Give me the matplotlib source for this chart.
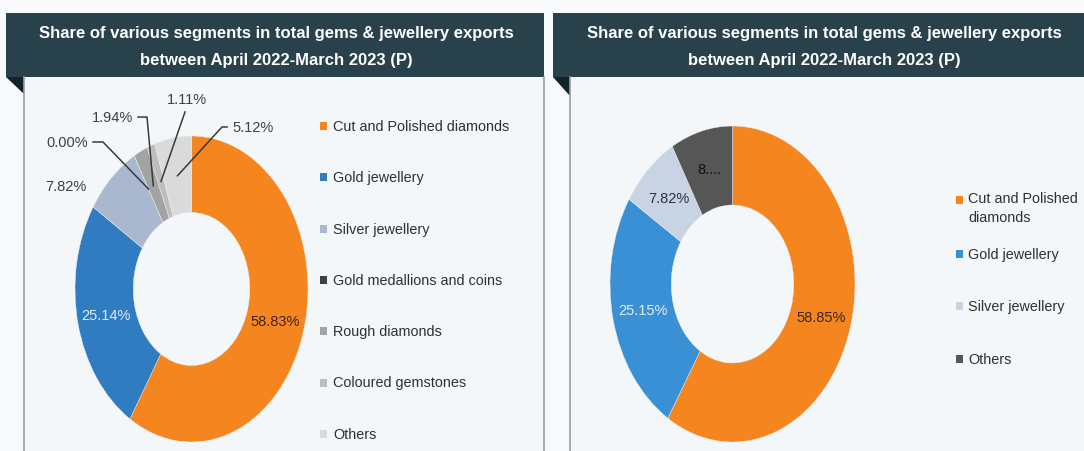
import numpy as np
import matplotlib
matplotlib.use('Agg')
import matplotlib.pyplot as plt
from matplotlib.patches import Rectangle, Polygon

plt.rcParams['font.family'] = ['Liberation Sans Narrow', 'Liberation Sans', 'DejaVu Sans']

# ---- data ----
title = 'Share of various segments in total gems & jewellery exports\nbetween April 2022-March 2023 (P)'

left_categories = ['Cut and Polished diamonds', 'Gold jewellery', 'Silver jewellery',
                   'Gold medallions and coins', 'Rough diamonds', 'Coloured gemstones', 'Others']
left_values = [58.83, 25.14, 7.82, 0.00, 1.94, 1.11, 5.12]
left_colors = ['#f5851f', '#2f7cc0', '#a9b8cf', '#404040', '#a3a3a3', '#bdbdbd', '#dadada']

right_categories = ['Cut and Polished\ndiamonds', 'Gold jewellery', 'Silver jewellery', 'Others']
right_values = [58.85, 25.15, 7.82, 8.18]
right_labels = ['58.85%', '25.15%', '7.82%', '8....']
right_colors = ['#f5851f', '#3a90d4', '#c8d4e3', '#565656']

W, H = 1084, 452
BG = '#f3f7fa'
HEAD = '#28414a'
FOLD = '#13232a'
LBL = 10.5   # slice label size
LEG = 10.4   # legend size


def rect(x0, y0, x1, y1):
    # pixel box (top-left origin) -> figure fraction
    return [x0 / W, 1 - y1 / H, (x1 - x0) / W, (y1 - y0) / H]


def mid_angles(values):
    v = np.array(values, dtype=float)
    frac = (np.cumsum(v) - v / 2) / v.sum()
    return np.deg2rad(90 - frac * 360)


fig = plt.figure(figsize=(W / 100, H / 100), dpi=100, facecolor='#f7f9fb')
bg = fig.add_axes([0, 0, 1, 1])
bg.set_xlim(0, W)
bg.set_ylim(H, 0)
bg.axis('off')

# panels
bg.add_patch(Rectangle((24, 78), 520, H - 78, facecolor=BG, edgecolor='none'))
bg.add_patch(Rectangle((570, 78), W - 570, H - 78, facecolor=BG, edgecolor='none'))
for x in (24, 544, 570):
    bg.plot([x, x], [78, H], color='#9a9fa3', lw=1.2)

# headers
bg.add_patch(Rectangle((6, 14), 538, 64, facecolor=HEAD, edgecolor='none'))
bg.add_patch(Rectangle((553, 14), W - 553, 64, facecolor=HEAD, edgecolor='none'))
bg.add_patch(Polygon([(6, 78), (24, 78), (24, 95)], closed=True, facecolor=FOLD, edgecolor='none'))
bg.add_patch(Polygon([(553, 78), (570, 78), (570, 97)], closed=True, facecolor=FOLD, edgecolor='none'))
for cx in (276, 824):
    bg.text(cx, 47, title, ha='center', va='center', color='white', fontsize=12,
            fontweight='bold', linespacing=1.95)

# ---- left donut ----
axl = fig.add_axes(rect(75, 137, 308, 443))
axl.pie(left_values, colors=left_colors, startangle=90, counterclock=False, radius=1,
        wedgeprops=dict(width=0.5, edgecolor='#f0f0f0', linewidth=0.3))
axl.set_xlim(-1, 1)
axl.set_ylim(-1, 1)
axl.set_aspect('auto')
axl.axis('off')

angl = mid_angles(left_values)
lab = ['%.2f%%' % v for v in left_values]
r = 0.75
axl.text(r * np.cos(angl[0]), r * np.sin(angl[0]), lab[0], ha='center', va='center',
         fontsize=LBL, color='#3b2616')
axl.text(r * np.cos(angl[1]), r * np.sin(angl[1]), lab[1], ha='center', va='center',
         fontsize=LBL, color='#dfeaf6')
axl.text(-1.077, 0.673, lab[2], ha='center', va='center', fontsize=LBL, color='#404040')

# labels with leader lines: (index, text x, text y, ha, leader start points)
leaders = [
    (3, -0.888, 0.961, 'right', [(-0.845, 0.961), (-0.760, 0.961)]),
    (4, -0.502, 1.124, 'right', [(-0.459, 1.124), (-0.382, 1.124)]),
    (5, -0.039, 1.242, 'center', [(-0.056, 1.157)]),
    (6, 0.348, 1.059, 'left', [(0.305, 1.059), (0.262, 1.059)]),
]
for i, tx, ty, ha, pts in leaders:
    ex, ey = r * np.cos(angl[i]), r * np.sin(angl[i])
    xs = [p[0] for p in pts] + [ex]
    ys = [p[1] for p in pts] + [ey]
    axl.plot(xs, ys, color='#3a3a3a', lw=1.1, clip_on=False)
    axl.text(tx, ty, lab[i], ha=ha, va='center', fontsize=LBL, color='#404040')

# left legend
for k, (name, col) in enumerate(zip(left_categories, left_colors)):
    y = 127 + k * 51.3
    bg.add_patch(Rectangle((320, y - 4), 7, 8, facecolor=col, edgecolor='none'))
    bg.text(333, y, name, ha='left', va='center', fontsize=LEG, color='#303030')

# ---- right donut ----
axr = fig.add_axes(rect(610, 127, 855, 443))
axr.pie(right_values, colors=right_colors, startangle=90, counterclock=False, radius=1,
        wedgeprops=dict(width=0.5, edgecolor='#f0f0f0', linewidth=0.3))
axr.set_xlim(-1, 1)
axr.set_ylim(-1, 1)
axr.set_aspect('auto')
axr.axis('off')

angr = mid_angles(right_values)
rcols = ['#3b2616', '#e3eef9', '#2a3142', '#111111']
for i, (t, c) in enumerate(zip(right_labels, rcols)):
    axr.text(r * np.cos(angr[i]), r * np.sin(angr[i]), t, ha='center', va='center',
             fontsize=LBL, color=c)

# right legend
rows = [201, 255, 307, 360]
for name, col, y in zip(right_categories, right_colors, rows):
    bg.add_patch(Rectangle((956, y - 4), 7, 8, facecolor=col, edgecolor='none'))
    if '\n' in name:
        bg.text(968, y - 9, name, ha='left', va='top', fontsize=LEG, color='#303030',
                linespacing=1.45)
    else:
        bg.text(968, y, name, ha='left', va='center', fontsize=LEG, color='#303030')

fig.savefig('out.png', dpi=100, facecolor=fig.get_facecolor())
